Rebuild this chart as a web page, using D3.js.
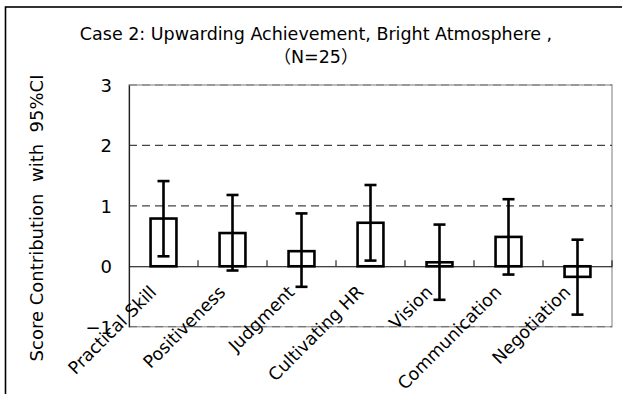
<!DOCTYPE html>
<html>
<head>
<meta charset="utf-8">
<script src="https://cdn.jsdelivr.net/npm/d3@7"></script>
<style>
  html, body { margin: 0; padding: 0; background: #fff; }
  svg { display: block; }
  text { font-family: "DejaVu Sans", "Noto Sans CJK JP", sans-serif; fill: #000; }
</style>
</head>
<body>
<svg id="chart" width="622" height="394"></svg>
<script>
// Mean score contribution per competency with 95% confidence interval
const categories = ["Practical Skill", "Positiveness", "Judgment", "Cultivating HR", "Vision", "Communication", "Negotiation"];
const means = [0.79, 0.55, 0.25, 0.72, 0.066, 0.486, -0.175];
const ciLow = [0.165, -0.07, -0.34, 0.094, -0.555, -0.137, -0.80];
const ciHigh = [1.41, 1.18, 0.875, 1.345, 0.69, 1.11, 0.44];
const yTicks = [-1, 0, 1, 2, 3];
const gridValues = [1, 2, 3, -1];
const titleLines = ["Case 2: Upwarding Achievement, Bright Atmosphere ,", "（N=25）"];
const yTitle = "Score Contribution  with  95%CI";

const svg = d3.select("#chart");
const plot = { left: 129, right: 612, top: 85, bottom: 326.7 };

const x = d3.scaleBand().domain(categories).range([plot.left, plot.right]).padding(0);
const y = d3.scaleLinear().domain([-1, 3]).range([plot.bottom, plot.top]);
const barW = x.bandwidth() * 0.375;

// outer chart frame
svg.append("rect")
  .attr("x", 5.5).attr("y", 7)
  .attr("width", 640).attr("height", 400)
  .attr("fill", "#fff").attr("stroke", "#000").attr("stroke-width", 1.6);

// plot-area border (gray)
svg.append("rect")
  .attr("x", plot.left).attr("y", plot.top)
  .attr("width", plot.right - plot.left).attr("height", plot.bottom - plot.top)
  .attr("fill", "none").attr("stroke", "#a8a8a8").attr("stroke-width", 1.5);

// dashed gridlines
svg.append("g").selectAll("line").data(gridValues).join("line")
  .attr("x1", plot.left).attr("x2", plot.right)
  .attr("y1", d => y(d)).attr("y2", d => y(d))
  .attr("stroke", d => (d === 1 || d === 2) ? "#444" : "#777")
  .attr("stroke-width", 1.2)
  .attr("stroke-dasharray", "8,5");

// left value axis
const yAxis = svg.append("g")
  .attr("transform", `translate(${plot.left},0)`)
  .call(d3.axisLeft(y).tickValues(yTicks).tickSize(0).tickPadding(17).tickFormat(d3.format("d")));
yAxis.select(".domain").attr("stroke", "#222").attr("stroke-width", 1.2);
yAxis.selectAll("text")
  .style("font-family", "\"DejaVu Sans\", sans-serif")
  .style("font-size", "18px")
  .attr("dy", "0.36em");

// bars
svg.append("g").selectAll("rect").data(categories).join("rect")
  .attr("x", d => x(d) + (x.bandwidth() - barW) / 2)
  .attr("width", barW)
  .attr("y", (d, i) => y(Math.max(0, means[i])))
  .attr("height", (d, i) => Math.abs(y(means[i]) - y(0)))
  .attr("fill", "#fff")
  .attr("stroke", "#000")
  .attr("stroke-width", 2.6);

// category axis at zero
const xAxis = svg.append("g")
  .attr("transform", `translate(0,${y(0)})`)
  .call(d3.axisBottom(x).tickSize(0).tickPadding(0));
xAxis.select(".domain").attr("stroke", "#000").attr("stroke-width", 1.2);
xAxis.selectAll(".tick text")
  .style("font-family", "\"DejaVu Sans\", sans-serif")
  .style("font-size", "17.5px")
  .attr("text-anchor", "end")
  .attr("dy", 0)
  .attr("y", 0)
  .attr("transform", "translate(-6,27) rotate(-45)");

// inward tick marks at category boundaries
svg.append("g").selectAll("line").data(categories).join("line")
  .attr("x1", d => x(d) + x.bandwidth()).attr("x2", d => x(d) + x.bandwidth())
  .attr("y1", y(0)).attr("y2", y(0) - 6)
  .attr("stroke", "#000").attr("stroke-width", 1);

// 95% CI error bars
const capW = 12;
const eb = svg.append("g").attr("stroke", "#000").attr("stroke-width", 2.6);
categories.forEach((c, i) => {
  const cx = x(c) + x.bandwidth() / 2;
  eb.append("line").attr("x1", cx).attr("x2", cx).attr("y1", y(ciLow[i])).attr("y2", y(ciHigh[i]));
  eb.append("line").attr("x1", cx - capW / 2).attr("x2", cx + capW / 2).attr("y1", y(ciHigh[i])).attr("y2", y(ciHigh[i]));
  eb.append("line").attr("x1", cx - capW / 2).attr("x2", cx + capW / 2).attr("y1", y(ciLow[i])).attr("y2", y(ciLow[i]));
});

// title
svg.append("g").selectAll("text").data(titleLines).join("text")
  .attr("x", 316).attr("y", (d, i) => 40 + i * 23)
  .attr("text-anchor", "middle")
  .style("font-size", "17.5px")
  .text(d => d);

// value axis title
svg.append("text")
  .attr("transform", "translate(43,218) rotate(-90)")
  .attr("text-anchor", "middle")
  .style("font-size", "18px")
  .style("white-space", "pre")
  .text(yTitle);
</script>
</body>
</html>
